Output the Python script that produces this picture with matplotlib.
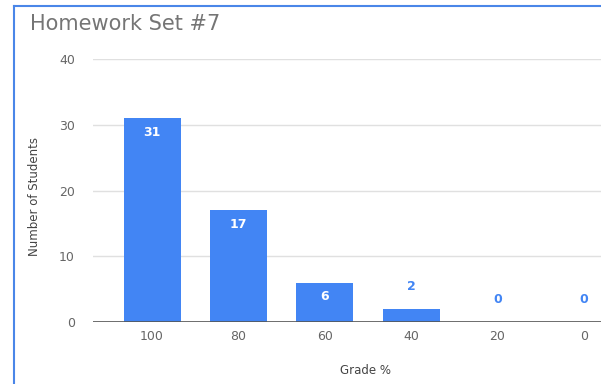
import matplotlib
matplotlib.use("Agg")
import matplotlib.pyplot as plt
from matplotlib.lines import Line2D

grades = ["100", "80", "60", "40", "20", "0"]
students = [31, 17, 6, 2, 0, 0]
y_ticks = [0, 10, 20, 30, 40]

bar_color = "#4285f4"
text_gray = "#666666"

fig = plt.figure(figsize=(6.01, 3.84), dpi=100)
W, H = 601, 384
ax = fig.add_axes([93 / W, 1 - 322 / H, 1 - 93 / W, (322 - 59) / H])

xs = list(range(len(grades)))
bars = ax.bar(xs, students, width=0.66, color=bar_color, zorder=3)

ax.set_xlim(-0.684, 5.2)
ax.set_ylim(0, 40)
ax.set_yticks(y_ticks)
ax.set_xticks(xs)
ax.set_xticklabels(grades)
ax.grid(axis="y", color="#e0e0e0", linewidth=1, zorder=0)
ax.axhline(0, color="#555555", linewidth=1.2, zorder=4)
for s in ax.spines.values():
    s.set_visible(False)
ax.tick_params(length=0, labelsize=9, colors=text_gray)
ax.tick_params(axis="y", pad=13)
ax.tick_params(axis="x", pad=6)

for x, v in zip(xs, students):
    if v >= 5:
        ax.annotate(str(v), (x, v), xytext=(0, -10), textcoords="offset points",
                    ha="center", va="center", color="white", fontsize=9,
                    fontweight="bold", zorder=5)
    else:
        ax.annotate(str(v), (x, v), xytext=(0, 16), textcoords="offset points",
                    ha="center", va="center", color=bar_color, fontsize=9,
                    fontweight="bold", zorder=5)

fig.text(366 / W, 1 - 370 / H, "Grade %", ha="center", va="center",
         fontsize=8.5, color="#444444")
fig.text(35 / W, 1 - 197 / H, "Number of Students", ha="center", va="center",
         rotation=90, fontsize=8.5, color="#444444")
fig.text(30 / W, 1 - 24 / H, "Homework Set #7", ha="left", va="center",
         fontsize=15, color="#757575")

# blue frame (screenshot border)
fig.add_artist(Line2D([14 / W, 14 / W], [0, 1 - 6 / H], color="#4a86e8", linewidth=1.5))
fig.add_artist(Line2D([14 / W, 1], [1 - 6 / H, 1 - 6 / H], color="#4a86e8", linewidth=1.5))

plt.savefig("out.png", dpi=100)
